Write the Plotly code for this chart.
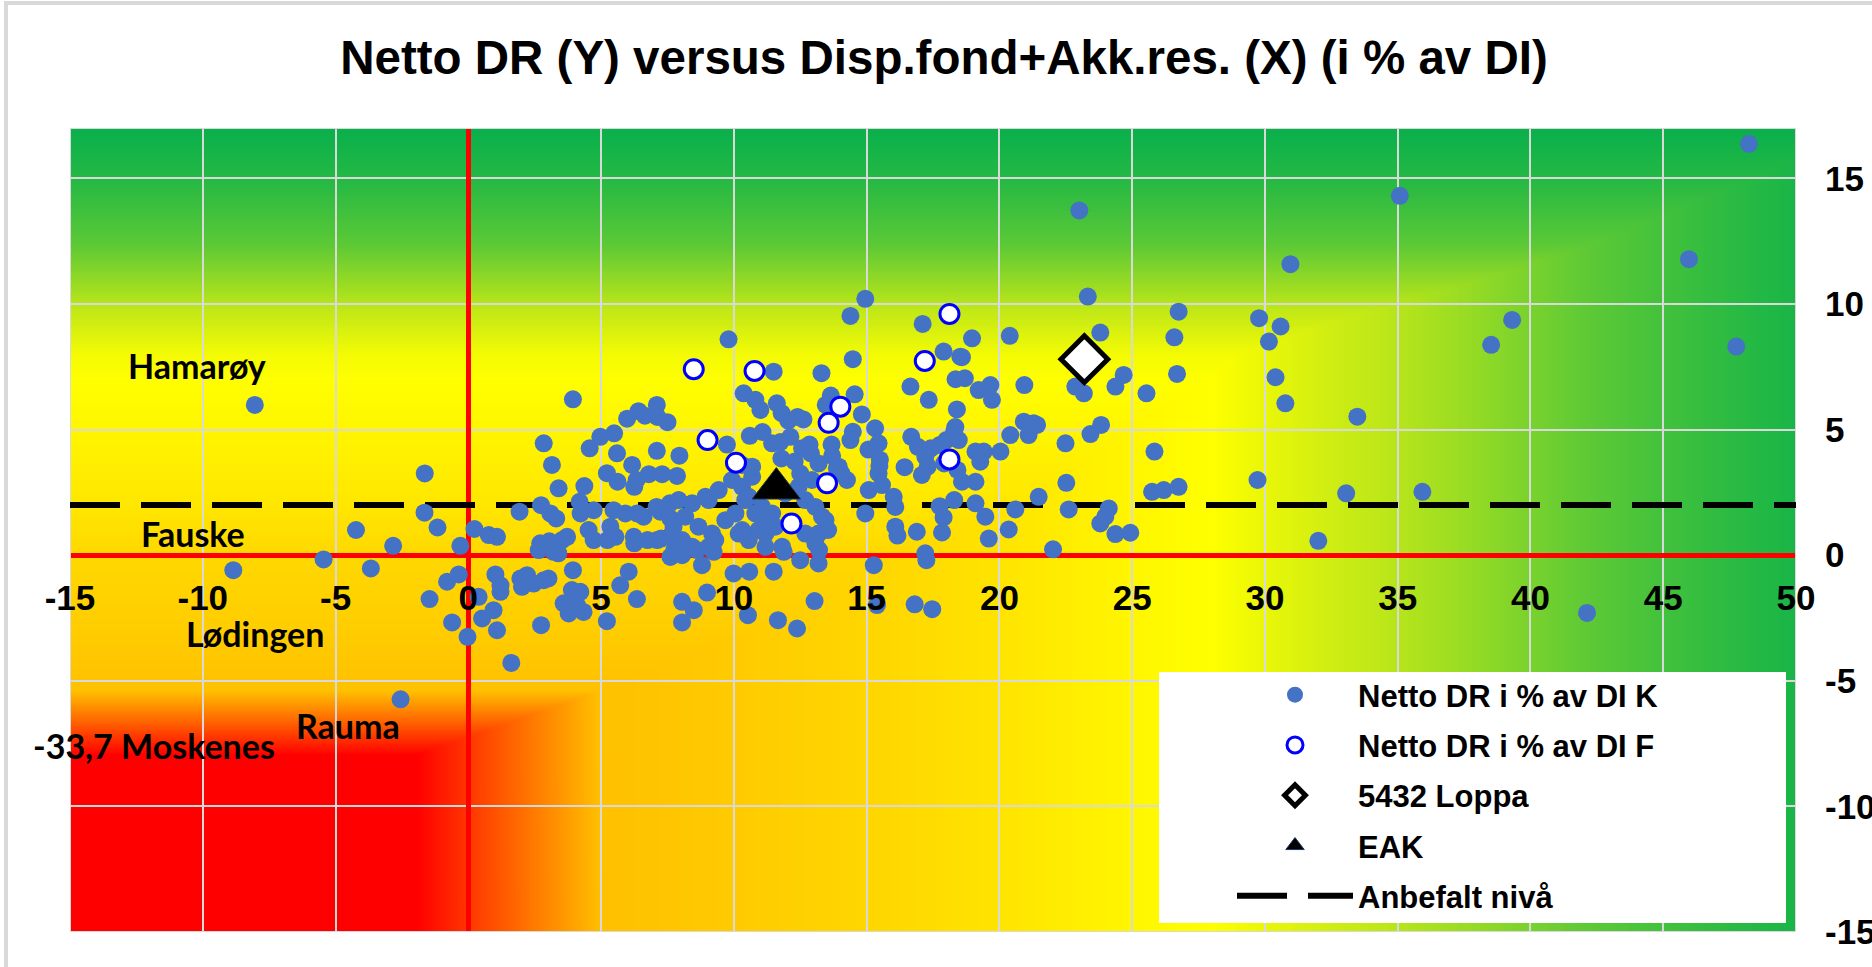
import base64
import struct
import zlib

import numpy as np
import plotly.graph_objects as go

# ---------------- data ----------------
k_x = [-8.04, -8.85, -5.45, -4.23, -3.67, -2.83, -2.55, -1.64, -1.65, -1.16, -0.30, -1.46, -0.80, -0.36, -0.61, -0.03,
       0.23, 0.77, 1.08, 1.93, 3.94, 2.84, 3.15, 3.40, 2.74, 3.09, 3.31, 2.71, 3.05, 3.53, 3.72, 4.37, 4.57, 4.19, 4.23,
       4.72, 4.53, 4.72, 4.97, 2.65, 3.21, 3.39,
       0.39, 0.52, 0.95, 1.08, 1.02, 1.21, 1.21, 1.62, 1.96, 2.21, 2.02, 2.46, 2.84, 3.02, 2.74, 3.94, 3.59, 3.90, 4.22,
       3.78, 4.34, 4.09, 5.22, 5.72, 6.04, 6.35, 8.05, 8.05,
       8.49, 8.99, 8.80, 9.99, 10.58, 10.53, 11.50, 11.66, 12.38, 12.50, 13.19, 13.04, 15.27, 15.39, 16.81, 17.47, 17.25,
       11.88, 7.61, 8.05, 8.61, 9.24, 17.21,
       5.98, 6.41, 6.65, 7.10, 7.12, 7.50, 5.49, 5.60, 7.10, 5.22, 5.62, 6.17, 6.25, 6.34, 6.80, 7.30, 7.86, 7.95, 5.47,
       5.35, 5.54, 5.24, 5.91, 6.35, 6.60, 7.23, 7.09, 7.59, 7.61, 7.73, 6.23, 7.11, 7.61, 6.25, 6.75, 7.26, 7.76, 7.92,
       7.67, 8.05,
       9.80, 11.50, 8.43, 8.93, 9.05, 9.43, 9.93, 10.31, 10.56, 10.69, 8.17, 8.67, 9.18, 9.68, 10.06, 10.18, 10.56, 10.93,
       11.19, 11.44, 11.06, 7.92, 8.43, 9.05, 9.30, 10.43, 10.81, 10.31, 11.19, 11.56, 11.19, 11.94, 12.44, 12.69, 13.07,
       13.32, 13.19, 13.45, 12.69, 11.82, 13.07, 12.37, 13.55, 13.21, 10.37, 10.81, 11.00, 11.62, 11.80, 12.05, 12.40,
       12.62, 9.74, 10.60, 11.08, 11.44, 11.75, 12.13, 12.57, 12.85, 12.90, 11.79, 12.29, 10.31, 10.69, 12.50, 12.94,
       13.19, 13.95, 14.26, 13.68, 13.70, 13.88, 14.05,
       14.39, 14.95, 14.48, 13.30, 17.11, 17.90, 18.53, 16.65, 17.34, 18.35, 18.70, 14.55, 13.65, 13.46, 14.82, 14.48,
       15.32, 14.39, 15.07, 15.45, 15.50, 15.48, 15.45, 16.43, 16.68, 16.93, 17.42, 17.75, 18.00, 18.30, 17.21, 17.30,
       17.08, 17.92, 18.42, 18.34, 18.47, 15.08, 15.58, 16.02, 16.08, 14.95, 16.08, 16.16, 16.89, 17.84, 17.90, 17.75,
       18.30,
       23.33, 23.01, 23.80, 26.75, 26.59, 26.69, 20.39, 18.97, 18.59, 19.22, 19.66, 19.72, 20.94, 22.86, 23.18, 24.37,
       24.68, 25.54, 18.40, 20.41, 20.92, 21.29, 21.10, 21.42, 22.49, 23.43, 23.83, 25.84, 19.10, 19.41, 20.04, 19.28,
       18.59, 19.10, 22.52, 25.75, 26.19, 26.75, 21.48, 19.10, 20.60, 22.61, 19.47, 24.12, 23.80, 23.99, 24.37, 24.93,
       19.60, 20.35, 22.02,
       48.23, 35.08, 30.96, 45.97, 29.78, 30.59, 30.15, 39.31, 38.52, 47.75, 30.40, 30.77, 33.48, 29.72, 33.06, 35.93,
       32.01, 42.13]
k_y = [5.98, -0.60, -0.17, 1.00, -0.53, 0.37, -5.74, 3.25, 1.69, 1.10, 0.37, -1.75, -1.06, -0.77, -2.68, -3.25,
       1.04, 0.80, 0.73, 1.73, 6.20, 4.45, 3.59, 2.66, 1.99, 1.66, 1.46, 0.47, 0.55, 0.60, 0.73, 2.75, 4.25, 2.12, 1.66,
       1.79, 1.00, 0.60, 4.71, 0.20, 0.13, 0.07,
       -1.66, -2.52, -2.19, -2.99, -0.77, -1.20, -1.46, -4.29, -0.93, -0.80, -1.26, -1.13, -1.00, -0.93, -2.79, -0.60,
       -1.92, -1.39, -1.46, -2.32, -2.26, -1.99, -2.63, -1.20, -0.66, -1.75, -1.86, -2.68,
       -2.19, -1.49, -0.40, -0.73, -0.66, -2.39, -0.66, -2.59, -2.92, -0.20, -0.33, -1.83, -0.40, -1.99, -1.96, -2.15,
       -0.20,
       0.13, -0.07, 0.00, 0.20, 0.13, 0.07,
       5.43, 5.73, 5.55, 5.98, 5.50, 5.29, 4.85, 4.05, 4.15, 3.26, 2.92, 3.59, 2.72, 2.99, 3.22, 3.22, 3.15, 3.96, 1.79,
       1.13, 0.73, 0.60, 1.66, 1.66, 1.53, 1.73, 1.92, 2.06, 1.46, 1.13, 0.73, 0.60, 0.73, 0.47, 0.60, 0.66, 0.20, 2.19,
       0.86, 0.60,
       8.59, 7.30, 2.06, 2.32, 2.19, 2.59, 2.99, 2.72, 2.32, 3.12, 1.53, 1.13, 0.86, 1.39, 1.66, 0.86, 0.60, 1.00,
       1.39, 1.66, 1.92, 0.33, 0.33, 0.33, 0.60, 2.19, 1.66, 1.00, 0.86, 1.13, 0.33, 2.46, 2.72, 2.19, 1.92,
       1.53, 0.86, 1.39, 0.86, 0.33, 0.47, 2.59, 1.00, 0.20, 6.44, 6.18, 5.78, 6.04, 5.65, 5.35, 5.50,
       5.40, 4.40, 4.75, 4.90, 4.45, 4.50, 4.71, 4.25, 4.40, 4.05, 3.85, 3.73, 3.59, 3.52, 3.25, 2.99,
       3.65, 3.52, 2.99, 4.40, 3.95, 3.45, 3.25,
       9.52, 10.20, 7.80, 7.24, 9.20, 8.10, 7.90, 6.71, 6.18, 7.00, 7.04, 6.40, 6.35, 5.98, 5.60, 4.91,
       5.05, 4.58, 4.20, 4.45, 3.80, 3.55, 3.25, 3.50, 4.71, 4.31, 4.25, 4.38, 4.58, 4.95, 3.92, 3.52,
       3.19, 3.65, 3.39, 5.10, 4.58, 2.59, 2.79, 2.32, 1.92, 1.66, 1.13, 0.78, 0.93, 0.90, 1.50, 1.95,
       2.19,
       10.29, 13.72, 8.86, 9.69, 8.67, 7.21, 8.73, 8.63, 7.88, 6.57, 6.77, 6.18, 6.77, 6.71, 6.44, 6.71,
       7.17, 6.44, 5.80, 4.78, 5.31, 5.25, 4.78, 5.18, 4.45, 4.82, 5.18, 4.12, 4.12, 4.12, 4.12, 3.72,
       2.92, 2.92, 2.88, 2.52, 2.59, 2.72, 2.32, 2.06, 1.82, 1.82, 1.53, 1.86, 1.26, 1.53, 0.84, 0.89,
       0.66, 1.02, 0.23,
       16.37, 14.30, 11.58, 11.78, 9.43, 9.10, 8.50, 9.36, 8.37, 8.30, 7.08, 6.04, 5.51, 2.99, 2.46, 2.52,
       0.57, -2.30]

f_x = [8.49, 10.78, 9.01, 10.08, 14.01, 13.57, 13.51, 12.17, 18.12, 17.19, 18.12]
f_y = [7.40, 7.33, 4.58, 3.68, 5.91, 5.27, 2.86, 1.26, 9.60, 7.73, 3.81]

loppa_x = [23.2]
loppa_y = [7.8]
eak_x = [11.6]
eak_y = [2.65]

anbefalt_x = [-15, 50]
anbefalt_y = [2, 2]

x_ticks = [-15, -10, -5, 0, 5, 10, 15, 20, 25, 30, 35, 40, 45, 50]
y_ticks = [-15, -10, -5, 0, 5, 10, 15]
x_range = [-15, 50]
y_range = [-15, 17]

labels = ["Hamarøy", "Fauske", "Lødingen", "Rauma", "-33,7 Moskenes"]
label_x = [-10.23, -10.38, -8.03, -4.52, -11.85]
label_y = [7.53, 0.88, -3.12, -6.77, -7.57]

title = "Netto DR (Y) versus Disp.fond+Akk.res. (X) (i % av DI)"


# ---------------- background gradient (style) ----------------
def png_uri(rgb):
    h, w, _ = rgb.shape
    raw = b"".join(b"\x00" + rgb[i].tobytes() for i in range(h))

    def chunk(tag, data):
        c = struct.pack(">I", len(data)) + tag + data
        return c + struct.pack(">I", zlib.crc32(tag + data) & 0xFFFFFFFF)

    png = (b"\x89PNG\r\n\x1a\n"
           + chunk(b"IHDR", struct.pack(">IIBBBBB", w, h, 8, 2, 0, 0, 0))
           + chunk(b"IDAT", zlib.compress(raw, 9))
           + chunk(b"IEND", b""))
    return "data:image/png;base64," + base64.b64encode(png).decode()


gx = np.linspace(x_range[0], x_range[1], 521)
gy = np.linspace(y_range[1], y_range[0], 257)
GX, GY = np.meshgrid(gx, gy)
tv = np.interp(GY, [-15, -5, -3, 0, 2, 5, 7, 8, 10, 12.5, 15, 17],
               [0.36, 0.37, 0.42, 0.47, 0.52, 0.57, 0.60, 0.62, 0.73, 0.86, 0.95, 1.0])
th = np.interp(GX, [-15, 5, 10, 15, 20, 25, 28, 33, 38, 42, 47, 50],
               [0.0, 0.36, 0.41, 0.46, 0.51, 0.57, 0.60, 0.70, 0.78, 0.85, 0.93, 0.97])
t = np.maximum(tv, th)
stops = [0, 0.36, 0.47, 0.60, 0.72, 0.85, 0.95, 1.0]
R = np.interp(t, stops, [255, 255, 255, 255, 192, 96, 37, 10])
G = np.interp(t, stops, [0, 192, 216, 255, 232, 202, 185, 176])
B = np.interp(t, stops, [0, 0, 0, 0, 24, 53, 68, 76])
a = np.clip((-GY - 5.4) / 2.6, 0, 1)
b = np.clip((5 - GX) / 7, 0, 1)
rc = np.minimum(a, b)
R = R * (1 - rc) + 255 * rc
G = G * (1 - rc)
B = B * (1 - rc)
rgb = np.stack([R, G, B], axis=-1).round().clip(0, 255).astype(np.uint8)
bg_uri = png_uri(rgb)

# ---------------- figure ----------------
W, H = 1872, 967
ML, MR, MT, MB = 70, 76, 128, 35
pw, ph = W - ML - MR, H - MT - MB


def px_to_paper_x(px):
    return (px - ML) / pw


def px_to_paper_y(py):
    return (H - MB - py) / ph


arial = "Liberation Sans, Arial, sans-serif"
calib = "Lato, Carlito, Calibri, sans-serif"

fig = go.Figure()
fig.add_trace(go.Scatter(x=anbefalt_x, y=anbefalt_y, mode="lines", name="Anbefalt nivå", legendrank=5,
                         legendgroup="g5",
                         line=dict(color="black", width=6, dash="50px,21px"), hoverinfo="skip"))
fig.add_trace(go.Scatter(x=k_x, y=k_y, mode="markers", name="Netto DR i % av DI K", legendrank=1,
                         legendgroup="g1",
                         marker=dict(size=18, color="#4472C4", line=dict(width=0))))
fig.add_trace(go.Scatter(x=f_x, y=f_y, mode="markers", name="Netto DR i % av DI F", legendrank=2,
                         legendgroup="g2",
                         marker=dict(size=19, color="white", line=dict(width=3, color="#0000FF"))))
fig.add_trace(go.Scatter(x=loppa_x, y=loppa_y, mode="markers", name="5432 Loppa", legendrank=3,
                         legendgroup="g3",
                         marker=dict(symbol="diamond", size=36, color="white", line=dict(width=5, color="black"))))
fig.add_trace(go.Scatter(x=eak_x, y=eak_y, mode="markers", name="EAK", legendrank=4,
                         legendgroup="g4",
                         marker=dict(symbol="triangle-up", size=42, color="black",
                                     line=dict(width=1, color="#203864"))))

annotations = []
for txt, lx, ly in zip(labels, label_x, label_y):
    annotations.append(dict(x=lx, y=ly, xref="x", yref="y", text=txt, showarrow=False,
                            xanchor="center", yanchor="middle",
                            font=dict(family=calib, size=34, color="black", weight="bold")))

shapes = [
    # outer chart border
    dict(type="rect", xref="paper", yref="paper", x0=px_to_paper_x(6), x1=1.3,
         y0=-0.3, y1=px_to_paper_y(3), line=dict(color="#D9D9D9", width=4), layer="below"),
    # plot area border
    dict(type="rect", xref="x", yref="y", x0=x_range[0], x1=x_range[1], y0=y_range[0], y1=y_range[1],
         line=dict(color="#D9D9D9", width=2), layer="between"),
    # legend white box
    dict(type="rect", xref="paper", yref="paper", x0=px_to_paper_x(1159), x1=px_to_paper_x(1786),
         y0=px_to_paper_y(923), y1=px_to_paper_y(672), fillcolor="white", line=dict(width=0), layer="above"),
]

fig.update_layout(
    template="none",
    width=W, height=H,
    margin=dict(l=ML, r=MR, t=MT, b=MB, pad=0, autoexpand=False),
    paper_bgcolor="white", plot_bgcolor="white",
    title=dict(text=title, x=944 / W, xref="container", xanchor="center",
               y=1 - 57 / H, yref="container", yanchor="middle",
               font=dict(family=arial, size=47.5, color="black", weight="bold")),
    xaxis=dict(range=x_range, tickvals=x_ticks, ticktext=[str(v) for v in x_ticks],
               showgrid=True, gridcolor="#D9D9D9", gridwidth=2, automargin=False,
               zeroline=True, zerolinecolor="#FF0000", zerolinewidth=5,
               showline=False, ticks="", anchor="free",
               position=(0 - y_range[0]) / (y_range[1] - y_range[0]),
               ticklabelstandoff=19,
               tickfont=dict(family=arial, size=35, color="black", weight="bold")),
    yaxis=dict(range=y_range, tickvals=y_ticks, ticktext=[str(v) for v in y_ticks], side="right",
               showgrid=True, gridcolor="#D9D9D9", gridwidth=2, automargin=False,
               zeroline=True, zerolinecolor="#FF0000", zerolinewidth=5,
               showline=False, ticks="", ticklabelstandoff=28,
               tickfont=dict(family=arial, size=35, color="black", weight="bold")),
    images=[dict(source=bg_uri, xref="x", yref="y", x=x_range[0], y=y_range[1],
                 sizex=x_range[1] - x_range[0], sizey=y_range[1] - y_range[0],
                 xanchor="left", yanchor="top", sizing="stretch", layer="below")],
    shapes=shapes,
    annotations=annotations,
    showlegend=True,
    legend=dict(x=px_to_paper_x(1232), y=px_to_paper_y(668), xanchor="left", yanchor="top",
                bgcolor="rgba(0,0,0,0)", borderwidth=0, itemwidth=116,
                traceorder="grouped", tracegroupgap=7,
                font=dict(family=arial, size=31, color="black", weight="bold"),
                itemclick=False, itemdoubleclick=False),
)

fig.write_html("out.html", config={"displayModeBar": False},
               post_script="document.body.style.margin='0px';document.body.style.overflow='hidden';")
